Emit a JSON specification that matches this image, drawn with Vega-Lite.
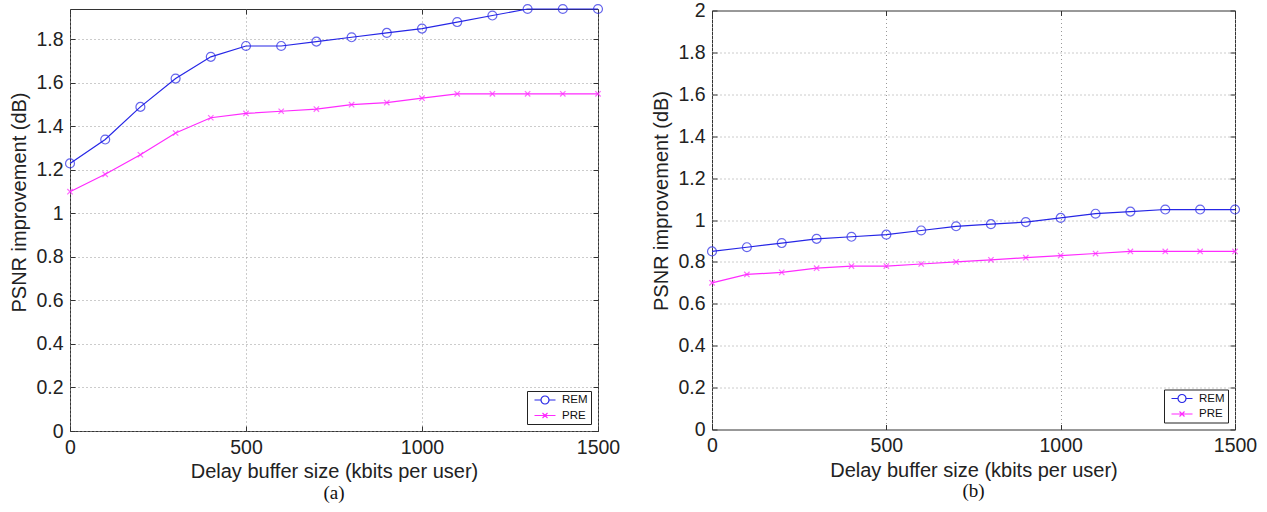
{
  "$schema": "https://vega.github.io/schema/vega-lite/v6.json",
  "background": "white",
  "padding": {"left": 9, "top": 0, "right": 0, "bottom": 0},
  "datasets": {
    "left": [
      {"buffer": 0, "psnr": 1.23, "series": "REM"},
      {"buffer": 100, "psnr": 1.34, "series": "REM"},
      {"buffer": 200, "psnr": 1.49, "series": "REM"},
      {"buffer": 300, "psnr": 1.62, "series": "REM"},
      {"buffer": 400, "psnr": 1.72, "series": "REM"},
      {"buffer": 500, "psnr": 1.77, "series": "REM"},
      {"buffer": 600, "psnr": 1.77, "series": "REM"},
      {"buffer": 700, "psnr": 1.79, "series": "REM"},
      {"buffer": 800, "psnr": 1.81, "series": "REM"},
      {"buffer": 900, "psnr": 1.83, "series": "REM"},
      {"buffer": 1000, "psnr": 1.85, "series": "REM"},
      {"buffer": 1100, "psnr": 1.88, "series": "REM"},
      {"buffer": 1200, "psnr": 1.91, "series": "REM"},
      {"buffer": 1300, "psnr": 1.94, "series": "REM"},
      {"buffer": 1400, "psnr": 1.94, "series": "REM"},
      {"buffer": 1500, "psnr": 1.94, "series": "REM"},
      {"buffer": 0, "psnr": 1.10, "series": "PRE"},
      {"buffer": 100, "psnr": 1.18, "series": "PRE"},
      {"buffer": 200, "psnr": 1.27, "series": "PRE"},
      {"buffer": 300, "psnr": 1.37, "series": "PRE"},
      {"buffer": 400, "psnr": 1.44, "series": "PRE"},
      {"buffer": 500, "psnr": 1.46, "series": "PRE"},
      {"buffer": 600, "psnr": 1.47, "series": "PRE"},
      {"buffer": 700, "psnr": 1.48, "series": "PRE"},
      {"buffer": 800, "psnr": 1.50, "series": "PRE"},
      {"buffer": 900, "psnr": 1.51, "series": "PRE"},
      {"buffer": 1000, "psnr": 1.53, "series": "PRE"},
      {"buffer": 1100, "psnr": 1.55, "series": "PRE"},
      {"buffer": 1200, "psnr": 1.55, "series": "PRE"},
      {"buffer": 1300, "psnr": 1.55, "series": "PRE"},
      {"buffer": 1400, "psnr": 1.55, "series": "PRE"},
      {"buffer": 1500, "psnr": 1.55, "series": "PRE"}
    ],
    "right": [
      {"buffer": 0, "psnr": 0.85, "series": "REM"},
      {"buffer": 100, "psnr": 0.87, "series": "REM"},
      {"buffer": 200, "psnr": 0.89, "series": "REM"},
      {"buffer": 300, "psnr": 0.91, "series": "REM"},
      {"buffer": 400, "psnr": 0.92, "series": "REM"},
      {"buffer": 500, "psnr": 0.93, "series": "REM"},
      {"buffer": 600, "psnr": 0.95, "series": "REM"},
      {"buffer": 700, "psnr": 0.97, "series": "REM"},
      {"buffer": 800, "psnr": 0.98, "series": "REM"},
      {"buffer": 900, "psnr": 0.99, "series": "REM"},
      {"buffer": 1000, "psnr": 1.01, "series": "REM"},
      {"buffer": 1100, "psnr": 1.03, "series": "REM"},
      {"buffer": 1200, "psnr": 1.04, "series": "REM"},
      {"buffer": 1300, "psnr": 1.05, "series": "REM"},
      {"buffer": 1400, "psnr": 1.05, "series": "REM"},
      {"buffer": 1500, "psnr": 1.05, "series": "REM"},
      {"buffer": 0, "psnr": 0.70, "series": "PRE"},
      {"buffer": 100, "psnr": 0.74, "series": "PRE"},
      {"buffer": 200, "psnr": 0.75, "series": "PRE"},
      {"buffer": 300, "psnr": 0.77, "series": "PRE"},
      {"buffer": 400, "psnr": 0.78, "series": "PRE"},
      {"buffer": 500, "psnr": 0.78, "series": "PRE"},
      {"buffer": 600, "psnr": 0.79, "series": "PRE"},
      {"buffer": 700, "psnr": 0.80, "series": "PRE"},
      {"buffer": 800, "psnr": 0.81, "series": "PRE"},
      {"buffer": 900, "psnr": 0.82, "series": "PRE"},
      {"buffer": 1000, "psnr": 0.83, "series": "PRE"},
      {"buffer": 1100, "psnr": 0.84, "series": "PRE"},
      {"buffer": 1200, "psnr": 0.85, "series": "PRE"},
      {"buffer": 1300, "psnr": 0.85, "series": "PRE"},
      {"buffer": 1400, "psnr": 0.85, "series": "PRE"},
      {"buffer": 1500, "psnr": 0.85, "series": "PRE"}
    ]
  },
  "hconcat": [
    {
      "width": 528,
      "height": 422,
      "data": {"name": "left"},
      "title": {"text": "(a)", "orient": "bottom", "font": "Liberation Serif", "fontSize": 19, "fontWeight": "normal", "color": "#111", "offset": 2},
      "resolve": {"axis": {"x": "independent", "y": "independent"}},
      "layer": [
        {
          "mark": {"type": "line", "strokeWidth": 1.2},
          "encoding": {
            "x": {"field": "buffer", "type": "quantitative", "scale": {"domain": [0, 1500], "nice": false},
                  "axis": {"orient": "bottom", "values": [0, 500, 1000, 1500], "format": "d", "labelFlush": false, "grid": true, "title": "Delay buffer size (kbits per user)", "labelPadding": 12, "titlePadding": 5}},
            "y": {"field": "psnr", "type": "quantitative", "scale": {"domain": [0, 1.94], "nice": false, "zero": true},
                  "axis": {"orient": "left", "values": [0, 0.2, 0.4, 0.6, 0.8, 1, 1.2, 1.4, 1.6, 1.8], "format": "~g", "labelFlush": false, "grid": true, "title": "PSNR improvement (dB)", "titleY": 193, "labelPadding": 12, "titlePadding": 6}},
            "color": {"field": "series", "type": "nominal", "scale": {"domain": ["REM", "PRE"], "range": ["#2626e6", "#ff2bff"]},
                      "legend": {"orient": "bottom-right", "offset": 7, "title": null, "strokeColor": "#222", "fillColor": "white", "padding": 3, "rowPadding": 2.5, "labelFont": "Liberation Sans", "labelFontSize": 11.5, "labelColor": "#111", "labelOffset": 11, "symbolSize": 100, "symbolOffset": 9, "symbolStrokeWidth": 1.2,
                                 "encode": {"symbols": {"update": {"shape": {"signal": "datum.value === 'REM' ? 'M-2.1,0L-0.8,0M0.8,0L2.1,0M0.8,0A0.8,0.8,0,1,1,-0.8,0A0.8,0.8,0,1,1,0.8,0' : 'M-2.1,0L2.1,0M-0.5,-0.5L0.5,0.5M-0.5,0.5L0.5,-0.5'"}, "fill": {"value": "transparent"}}}}}}
          }
        },
        {
          "transform": [{"filter": "datum.series === 'REM'"}],
          "mark": {"type": "point", "shape": "circle", "filled": false, "strokeWidth": 1.2, "size": 80, "color": "#2626e6"},
          "encoding": {
            "x": {"field": "buffer", "type": "quantitative", "axis": {"orient": "top", "values": [0, 500, 1000, 1500], "labels": false, "title": null, "grid": false}},
            "y": {"field": "psnr", "type": "quantitative", "axis": {"orient": "right", "values": [0, 0.2, 0.4, 0.6, 0.8, 1, 1.2, 1.4, 1.6, 1.8], "labels": false, "title": null, "grid": false}}
          }
        },
        {
          "transform": [{"filter": "datum.series === 'PRE'"}],
          "mark": {"type": "point", "shape": "M-0.6,-0.6L0.6,0.6M-0.6,0.6L0.6,-0.6", "filled": false, "strokeWidth": 1.2, "size": 80, "color": "#ff2bff"},
          "encoding": {
            "x": {"field": "buffer", "type": "quantitative", "axis": null},
            "y": {"field": "psnr", "type": "quantitative", "axis": null}
          }
        }
      ]
    },
    {
      "width": 523,
      "height": 419,
      "data": {"name": "right"},
      "title": {"text": "(b)", "orient": "bottom", "font": "Liberation Serif", "fontSize": 19, "fontWeight": "normal", "color": "#111", "offset": 2},
      "resolve": {"axis": {"x": "independent", "y": "independent"}},
      "layer": [
        {
          "mark": {"type": "line", "strokeWidth": 1.2},
          "encoding": {
            "x": {"field": "buffer", "type": "quantitative", "scale": {"domain": [0, 1500], "nice": false},
                  "axis": {"orient": "bottom", "values": [0, 500, 1000, 1500], "format": "d", "labelFlush": false, "grid": true, "title": "Delay buffer size (kbits per user)", "labelPadding": 12, "titlePadding": 5}},
            "y": {"field": "psnr", "type": "quantitative", "scale": {"domain": [0, 2], "nice": false, "zero": true},
                  "axis": {"orient": "left", "values": [0, 0.2, 0.4, 0.6, 0.8, 1, 1.2, 1.4, 1.6, 1.8, 2], "format": "~g", "labelFlush": false, "grid": true, "title": "PSNR improvement (dB)", "titleY": 190, "labelPadding": 12, "titlePadding": 6}},
            "color": {"field": "series", "type": "nominal", "scale": {"domain": ["REM", "PRE"], "range": ["#2626e6", "#ff2bff"]},
                      "legend": {"orient": "bottom-right", "offset": 7, "title": null, "strokeColor": "#222", "fillColor": "white", "padding": 3, "rowPadding": 2.5, "labelFont": "Liberation Sans", "labelFontSize": 11.5, "labelColor": "#111", "labelOffset": 11, "symbolSize": 100, "symbolOffset": 9, "symbolStrokeWidth": 1.2,
                                 "encode": {"symbols": {"update": {"shape": {"signal": "datum.value === 'REM' ? 'M-2.1,0L-0.8,0M0.8,0L2.1,0M0.8,0A0.8,0.8,0,1,1,-0.8,0A0.8,0.8,0,1,1,0.8,0' : 'M-2.1,0L2.1,0M-0.5,-0.5L0.5,0.5M-0.5,0.5L0.5,-0.5'"}, "fill": {"value": "transparent"}}}}}}
          }
        },
        {
          "transform": [{"filter": "datum.series === 'REM'"}],
          "mark": {"type": "point", "shape": "circle", "filled": false, "strokeWidth": 1.2, "size": 80, "color": "#2626e6"},
          "encoding": {
            "x": {"field": "buffer", "type": "quantitative", "axis": {"orient": "top", "values": [0, 500, 1000, 1500], "labels": false, "title": null, "grid": false}},
            "y": {"field": "psnr", "type": "quantitative", "axis": {"orient": "right", "values": [0, 0.2, 0.4, 0.6, 0.8, 1, 1.2, 1.4, 1.6, 1.8, 2], "labels": false, "title": null, "grid": false}}
          }
        },
        {
          "transform": [{"filter": "datum.series === 'PRE'"}],
          "mark": {"type": "point", "shape": "M-0.6,-0.6L0.6,0.6M-0.6,0.6L0.6,-0.6", "filled": false, "strokeWidth": 1.2, "size": 80, "color": "#ff2bff"},
          "encoding": {
            "x": {"field": "buffer", "type": "quantitative", "axis": null},
            "y": {"field": "psnr", "type": "quantitative", "axis": null}
          }
        }
      ]
    }
  ],
  "resolve": {"scale": {"color": "independent"}, "legend": {"color": "independent"}},
  "spacing": 114,
  "bounds": "flush",
  "center": true,
  "config": {
    "view": {"stroke": "#333", "strokeWidth": 1},
    "axis": {
      "labelFont": "Liberation Sans", "titleFont": "Liberation Sans",
      "labelFontSize": 19.5, "titleFontSize": 20, "titleFontWeight": "normal",
      "labelColor": "#222", "titleColor": "#222",
      "domain": false, "tickColor": "#333", "tickSize": -5,
      "gridColor": "#999", "gridDash": [1, 3], "gridOpacity": 1, "gridWidth": 1
    }
  }
}
